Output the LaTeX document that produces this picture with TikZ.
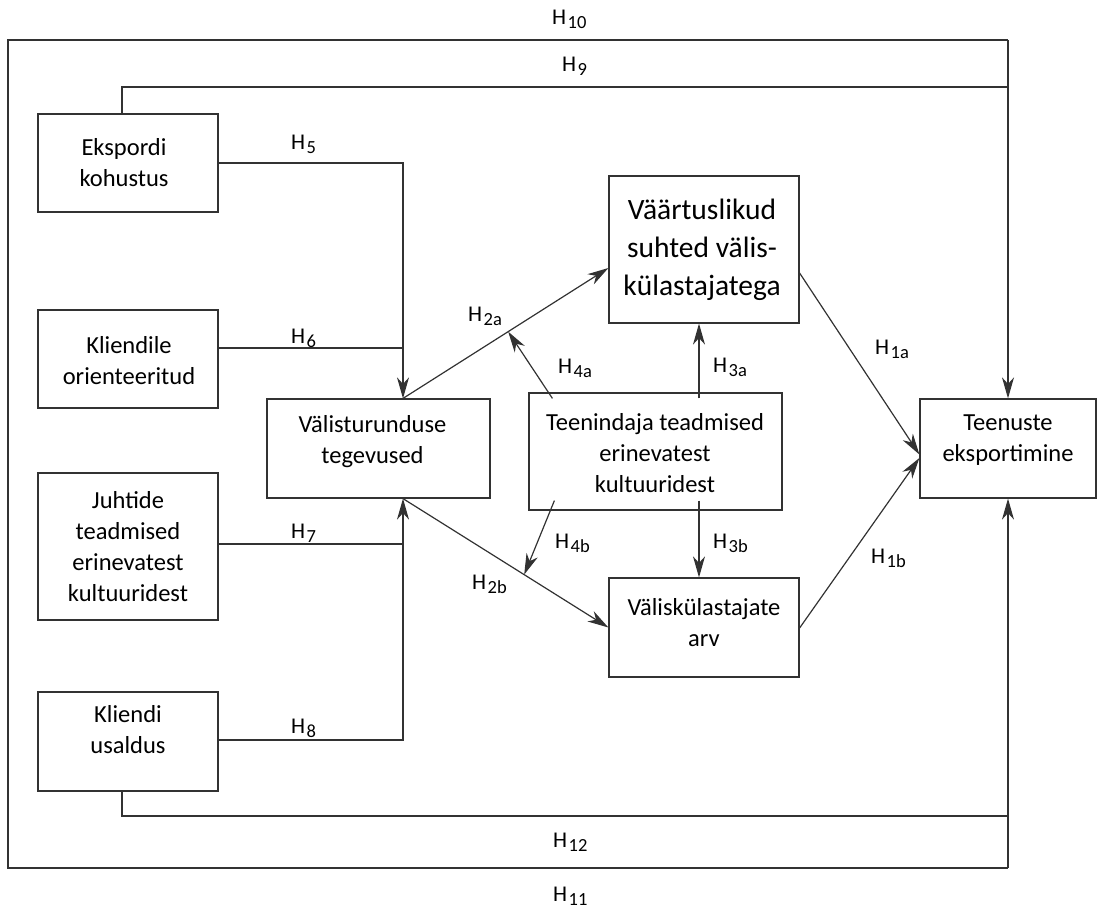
\documentclass[tikz,border=0pt]{standalone}
\usepackage{fontspec}
\setmainfont{Carlito}
\usetikzlibrary{arrows.meta,calc}
\definecolor{lc}{RGB}{50,50,50}
\newcommand\hyp[1]{H\kern1.4pt\raisebox{-4.5pt}{\fontsize{18.5}{18.5}\selectfont #1}}
\begin{document}
\begin{tikzpicture}[x=1pt,y=-1pt,
  ln/.style={line width=1.2pt,draw=lc},
  arr/.style={ln,-{Stealth[length=21pt,width=12pt,inset=6.5pt]}},
  box/.style={draw=lc,line width=1.2pt,inner sep=0pt},
  txt/.style={align=center,font=\fontsize{24.5}{31}\selectfont,inner sep=0pt},
  big/.style={align=center,font=\fontsize{29.5}{38}\selectfont,inner sep=0pt},
  hl/.style={font=\fontsize{22.5}{24}\selectfont,inner sep=0pt,anchor=base west}]
\useasboundingbox (0,0) rectangle (1112,910);

% boxes
\node[box,minimum width=180pt,minimum height=98pt] (eks) at (128,163) {};
\node[box,minimum width=180pt,minimum height=98pt] (kli) at (128,359) {};
\node[box,minimum width=180pt,minimum height=147pt] (juh) at (128,546.5) {};
\node[box,minimum width=180pt,minimum height=99pt] (usa) at (128,741.5) {};
\node[box,minimum width=223pt,minimum height=99pt] (val) at (378.5,448.5) {};
\node[box,minimum width=190pt,minimum height=147pt] (vaa) at (704,249.5) {};
\node[box,minimum width=253pt,minimum height=117pt] (teen) at (655.5,451.5) {};
\node[box,minimum width=190pt,minimum height=99pt] (vk) at (704,627.5) {};
\node[box,minimum width=176pt,minimum height=99pt] (tee) at (1008,448.5) {};

% texts
\node[txt] (eks-t) at (124,162.5) {Ekspordi\\kohustus};
\node[txt] (kli-t) at (129,361) {Kliendile\\orienteeritud};
\node[txt] (juh-t) at (128,546.5) {Juhtide\\teadmised\\erinevatest\\kultuuridest};
\node[txt] (usa-t) at (128,730) {Kliendi\\usaldus};
\node[txt] (val-t) at (372.5,442) {Välisturunduse\\tegevused};
\node[big] (vaa-t) at (702,250) {Väärtuslikud\\suhted välis-\\külastajatega};
\node[txt] (teen-t) at (655,453) {Teenindaja teadmised\\erinevatest\\kultuuridest};
\node[txt] (vk-t) at (704,622.5) {Väliskülastajate\\arv};
\node[txt] (tee-t) at (1008,440) {Teenuste\\eksportimine};

% helper coordinates
\coordinate (h9) at (122,87);
\coordinate (h12) at (122,816);
\coordinate (oTL) at (8,40);
\coordinate (oBR) at (1008,868);
\coordinate (vt) at ($(val.north)+(24.5,0)$);
\coordinate (vb) at ($(val.south)+(24.5,0)$);
\coordinate (h3) at (699,0);
\coordinate (vaaW) at ($(vaa.west)+(0,18.5)$);

% outer frame H10/H11, H9, H12
\draw[ln] (tee.north |- oTL) -- (oTL) -- (oTL |- oBR) -- (tee.south |- oBR);
\draw[arr] (tee.north |- oTL) -- (tee.north);
\draw[arr] (tee.south |- oBR) -- (tee.south);
\draw[ln] (eks.north -| h9) -- (h9) -- (h9 -| tee.north);
\draw[ln] (usa.south -| h12) -- (h12) -- (h12 -| tee.south);

% H5 - H8
\draw[arr] (eks.east) -- (eks.east -| vt) -- (vt);
\draw[ln] ($(kli.east)+(0,-11)$) -- ($(kli.east -| vt)+(0,-11)$);
\draw[ln] ($(juh.east)+(0,-2.5)$) -- ($(juh.east -| vb)+(0,-2.5)$);
\draw[arr] ($(usa.east)+(0,-1.5)$) -- ($(usa.east -| vb)+(0,-1.5)$) -- (vb);

% H2
\draw[arr] (vt) -- (vaaW);
\draw[arr] (vb) -- (vk.west);

% H4
\draw[arr] ($(teen.north west)+(24,6)$) -- ($(vt)!0.512!(vaaW)$);
\draw[arr] ($(teen.south west)+(26,-10)$) -- ($(vb)!0.59!(vk.west)$);

% H3
\draw[arr] ($(teen.north -| h3)+(0,6)$) -- (vaa.south -| h3);
\draw[arr] ($(teen.south -| h3)+(0,-10)$) -- (vk.north -| h3);

% H1
\draw[arr] ($(vaa.east)+(0,23.5)$) -- ($(tee.west)+(0,6)$);
\draw[arr] ($(vk.east)+(0,0.5)$) -- ($(tee.west)+(0,9.5)$);

% labels
\node[hl] (l10) at (552,24) {\hyp{10}};
\node[hl] (l9) at (562,71) {\hyp{9}};
\node[hl] (l5) at (291,149) {\hyp{5}};
\node[hl] (l6) at (291,343) {\hyp{6}};
\node[hl] (l7) at (291,538) {\hyp{7}};
\node[hl] (l8) at (291,733) {\hyp{8}};
\node[hl] (l2a) at (468,321) {\hyp{2a}};
\node[hl] (l2b) at (472,589) {\hyp{2b}};
\node[hl] (l4a) at (558,373) {\hyp{4a}};
\node[hl] (l3a) at (713,372) {\hyp{3a}};
\node[hl] (l1a) at (875,354) {\hyp{1a}};
\node[hl] (l4b) at (555,548) {\hyp{4b}};
\node[hl] (l3b) at (713,548) {\hyp{3b}};
\node[hl] (l1b) at (871,563) {\hyp{1b}};
\node[hl] (l12) at (553,847) {\hyp{12}};
\node[hl] (l11) at (553,901) {\hyp{11}};
\end{tikzpicture}
\end{document}
